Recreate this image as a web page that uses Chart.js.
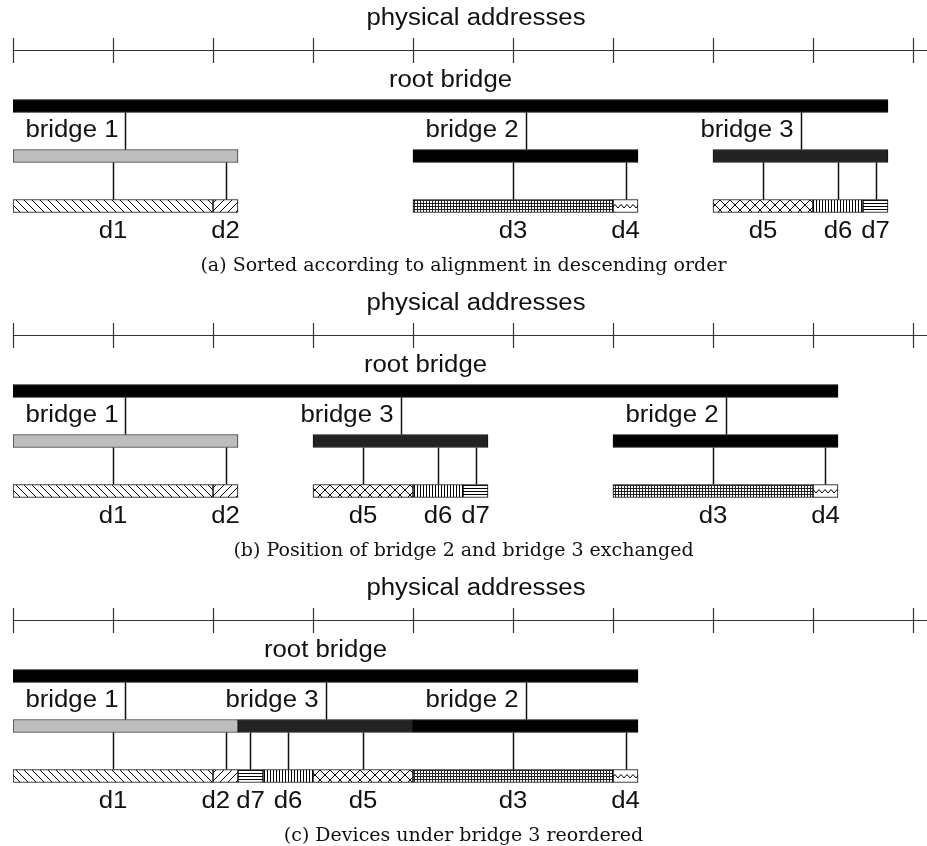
<!DOCTYPE html>
<html><head><meta charset="utf-8">
<script src="https://cdn.jsdelivr.net/npm/chart.js@4/dist/chart.umd.min.js"></script>
<style>
html,body{margin:0;padding:0;background:#fff;}
canvas{display:block;}
</style>
</head><body>
<canvas id="pa" width="927" height="285"></canvas>
<canvas id="pb" width="927" height="285"></canvas>
<canvas id="pc" width="927" height="276"></canvas>
<script>
// ---------- data ----------
const axisTitle = 'physical addresses';
const rootLabel = 'root bridge';
const rowLabels = ['root', 'bridges', 'devices'];
const tickValues = [0, 4, 8, 12, 16, 20, 24, 28, 32, 36];
const bridgeNames = ['bridge 1', 'bridge 2', 'bridge 3'];
const deviceNames = ['d1', 'd2', 'd3', 'd4', 'd5', 'd6', 'd7'];
const captions = [
  '(a) Sorted according to alignment in descending order',
  '(b) Position of bridge 2 and bridge 3 exchanged',
  '(c) Devices under bridge 3 reordered'
];
// panel (a)
const rootRangeA = [0, 35];
const bridgeStartA = [0, 16, 28];
const bridgeEndA = [9, 25, 35];
const deviceStartA = [0, 8, 16, 24, 28, 32, 34];
const deviceEndA = [8, 9, 24, 25, 32, 34, 35];
// panel (b)
const rootRangeB = [0, 33];
const bridgeStartB = [0, 24, 12];
const bridgeEndB = [9, 33, 19];
const deviceStartB = [0, 8, 24, 32, 12, 16, 18];
const deviceEndB = [8, 9, 32, 33, 16, 18, 19];
// panel (c)
const rootRangeC = [0, 25];
const bridgeStartC = [0, 16, 9];
const bridgeEndC = [9, 25, 16];
const deviceStartC = [0, 8, 16, 24, 12, 10, 9];
const deviceEndC = [8, 9, 24, 25, 16, 12, 10];

// ---------- styles ----------
const bridgeFill = ['#bdbdbd', '#000000', '#222222'];
const bridgeBorder = ['#333333', '#000000', '#111111'];
const devicePattern = ['bslash', 'slash', 'grid', 'zigzag', 'cross', 'vlines', 'hlines'];
const SANS = '23px "Liberation Sans", Arial, sans-serif';
const SANS_STRETCH = 1.12;
const SERIF = '19px "DejaVu Serif", serif';
const SERIF_STRETCH = 1.0;

function makePattern(kind) {
  const c = document.createElement('canvas');
  let w = 8, h = 8;
  if (kind === 'cross') { w = 10; h = 10; }
  if (kind === 'grid') { w = 3; h = 3; }
  if (kind === 'zigzag') { w = 6; h = 13; }
  if (kind === 'vlines') { w = 3; h = 3; }
  if (kind === 'hlines') { w = 3; h = 3; }
  c.width = w; c.height = h;
  const g = c.getContext('2d');
  g.fillStyle = '#fff'; g.fillRect(0, 0, w, h);
  g.strokeStyle = '#000'; g.fillStyle = '#000'; g.lineWidth = 1;
  if (kind === 'bslash' || kind === 'cross') {
    g.beginPath();
    for (const o of [-w, 0, w]) { g.moveTo(o, 0); g.lineTo(o + w, h); }
    g.stroke();
  }
  if (kind === 'slash' || kind === 'cross') {
    g.beginPath();
    for (const o of [-w, 0, w]) { g.moveTo(o, h); g.lineTo(o + w, 0); }
    g.stroke();
  }
  if (kind === 'grid') { g.fillStyle = '#222'; g.fillRect(0, 0, w, 1); g.fillRect(0, 0, 1, h); }
  if (kind === 'vlines') { g.fillRect(0, 0, 1, h); }
  if (kind === 'hlines') { g.fillRect(0, 0, w, 1); }
  if (kind === 'zigzag') {
    g.beginPath(); g.moveTo(0, 8); g.lineTo(3, 4.5); g.lineTo(6, 8); g.stroke();
  }
  const p = g.createPattern(c, 'repeat');
  if (p.setTransform) p.setTransform(new DOMMatrix([1, 0, 0, 1, 0, 200]));
  return p;
}

function stretchText(ctx, text, x, y, align, sc) {
  ctx.save();
  ctx.translate(x, y);
  ctx.scale(sc, 1);
  ctx.textAlign = align;
  ctx.fillText(text, 0, 0);
  ctx.restore();
}

function makePanel(id, rootRange, bStart, bEnd, dStart, dEnd, caption) {
  const canvas = document.getElementById(id);
  const H = canvas.height;
  const datasets = [];
  datasets.push({ label: rootLabel, data: [rootRange, null, null], backgroundColor: '#000', borderColor: '#000', borderWidth: 1 });
  bridgeNames.forEach((n, i) => datasets.push({
    label: n, data: [null, [bStart[i], bEnd[i]], null],
    backgroundColor: bridgeFill[i], borderColor: bridgeBorder[i], borderWidth: 1
  }));
  deviceNames.forEach((n, i) => datasets.push({
    label: n, data: [null, null, [dStart[i], dEnd[i]]],
    backgroundColor: makePattern(devicePattern[i]), borderColor: '#000', borderWidth: 1
  }));

  const decor = {
    id: 'decor',
    afterDraw(chart) {
      const ctx = chart.ctx, xs = chart.scales.x, ys = chart.scales.y;
      const half = 6.5;
      const yRoot = ys.getPixelForValue(0), yBr = ys.getPixelForValue(1), yDev = ys.getPixelForValue(2);
      ctx.save();
      // axis
      ctx.strokeStyle = '#333'; ctx.lineWidth = 1.2;
      ctx.beginPath();
      ctx.moveTo(xs.getPixelForValue(tickValues[0]), 50.5);
      ctx.lineTo(chart.width, 50.5);
      tickValues.forEach(v => {
        const x = Math.round(xs.getPixelForValue(v)) + 0.5;
        ctx.moveTo(x, 38); ctx.lineTo(x, 63);
      });
      ctx.stroke();
      // connectors
      ctx.strokeStyle = '#111'; ctx.lineWidth = 1.5;
      ctx.beginPath();
      bridgeNames.forEach((n, i) => {
        const x = Math.round(xs.getPixelForValue((bStart[i] + bEnd[i]) / 2)) + 0.5;
        ctx.moveTo(x, yRoot + half); ctx.lineTo(x, yBr - half);
      });
      deviceNames.forEach((n, i) => {
        const x = Math.round(xs.getPixelForValue((dStart[i] + dEnd[i]) / 2)) + 0.5;
        ctx.moveTo(x, yBr + half); ctx.lineTo(x, yDev - half);
      });
      ctx.stroke();
      // texts
      ctx.fillStyle = '#111';
      ctx.font = SANS; ctx.textBaseline = 'alphabetic';
      stretchText(ctx, axisTitle, 476, 25, 'center', SANS_STRETCH);
      stretchText(ctx, rootLabel, xs.getPixelForValue((rootRange[0] + rootRange[1]) / 2), yRoot - 19, 'center', SANS_STRETCH);
      bridgeNames.forEach((n, i) => {
        const x = xs.getPixelForValue((bStart[i] + bEnd[i]) / 2);
        stretchText(ctx, n, x - 7, yBr - 19, 'right', SANS_STRETCH);
      });
      // device labels with simple collision avoidance (shift left label)
      const labs = deviceNames.map((n, i) => ({
        n, x: xs.getPixelForValue((dStart[i] + dEnd[i]) / 2),
        w: ctx.measureText(n).width * SANS_STRETCH
      })).sort((a, b) => a.x - b.x);
      for (let k = labs.length - 2; k >= 0; k--) {
        const minD = (labs[k].w + labs[k + 1].w) / 2 + 6;
        if (labs[k + 1].x - labs[k].x < minD) labs[k].x = labs[k + 1].x - minD;
      }
      labs.forEach(l => stretchText(ctx, l.n, l.x, yDev + 32, 'center', SANS_STRETCH));
      ctx.font = SERIF;
      stretchText(ctx, caption, 463.5, yDev + 65, 'center', SERIF_STRETCH);
      ctx.restore();
    }
  };

  new Chart(canvas, {
    type: 'bar',
    data: { labels: rowLabels, datasets },
    options: {
      indexAxis: 'y', responsive: false, animation: false, events: [],
      layout: { padding: { left: 13, right: 0, top: 81, bottom: H - 231 } },
      datasets: { bar: { grouped: false, barThickness: 13, borderSkipped: false } },
      plugins: { legend: { display: false }, tooltip: { enabled: false } },
      scales: {
        x: { type: 'linear', min: 0, max: 36.56, display: false },
        y: { type: 'category', display: false, offset: true }
      }
    },
    plugins: [decor]
  });
}

makePanel('pa', rootRangeA, bridgeStartA, bridgeEndA, deviceStartA, deviceEndA, captions[0]);
makePanel('pb', rootRangeB, bridgeStartB, bridgeEndB, deviceStartB, deviceEndB, captions[1]);
makePanel('pc', rootRangeC, bridgeStartC, bridgeEndC, deviceStartC, deviceEndC, captions[2]);
</script>
</body></html>
